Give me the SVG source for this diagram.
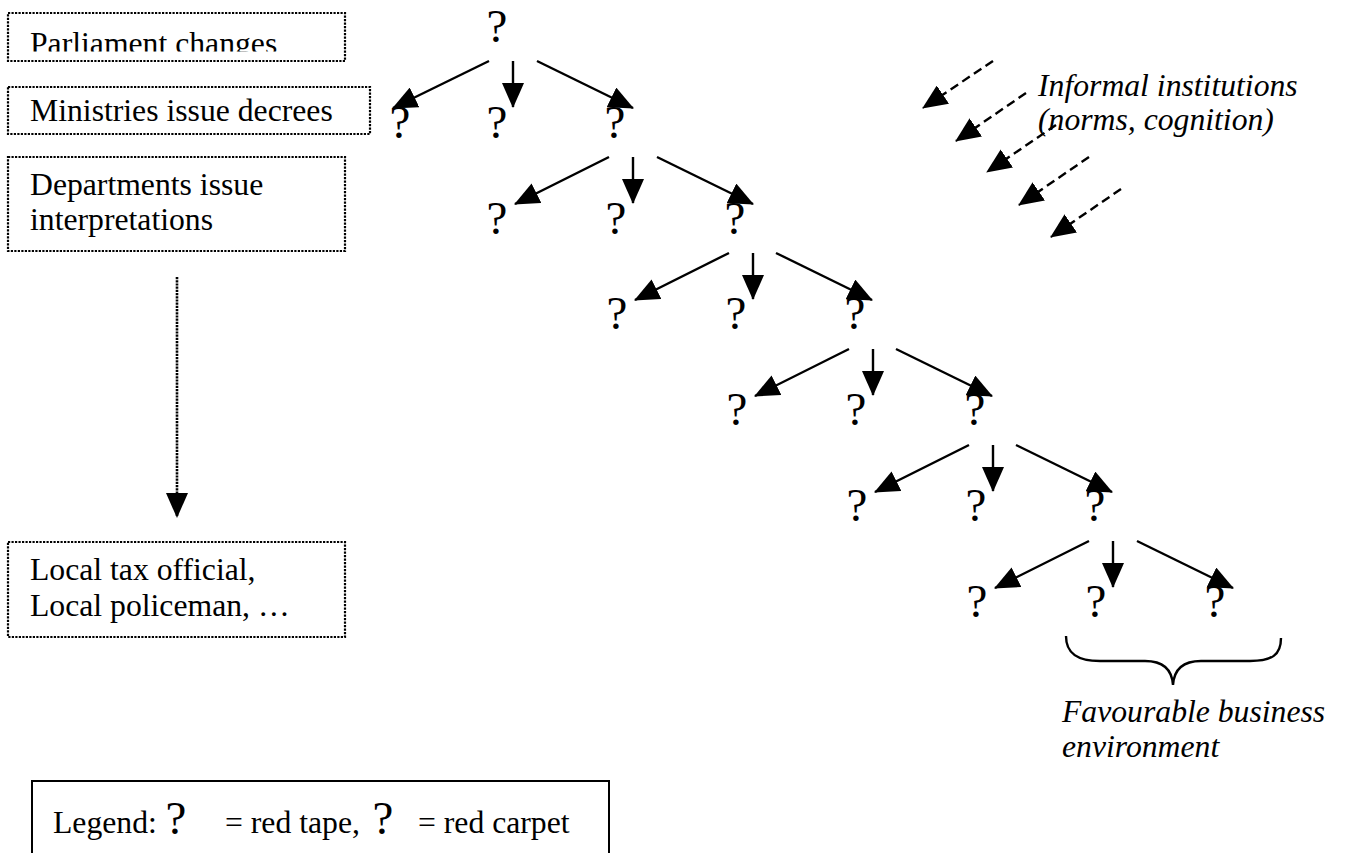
<svg xmlns="http://www.w3.org/2000/svg" width="1347" height="853" viewBox="0 0 1347 853">
<style>
text{font-family:"Liberation Serif","Times New Roman",serif;fill:#000}
.t{font-size:31.7px}
.it{font-size:31.7px;font-style:italic}
.q{font-size:47px;text-anchor:middle}
.box{fill:none;stroke:#000;stroke-width:2.2;stroke-dasharray:2.2 1.3}
.arr{stroke:#000;stroke-width:2.4;fill:none;marker-end:url(#ah)}
.dash{stroke:#000;stroke-width:2.4;fill:none;stroke-dasharray:9 5;marker-end:url(#ah)}
.dot{stroke:#000;stroke-width:2.6;fill:none;stroke-dasharray:2.2 1;marker-end:url(#ah)}
</style>
<defs>
<marker id="ah" markerUnits="userSpaceOnUse" markerWidth="25" markerHeight="22" refX="24" refY="11" orient="auto" viewBox="0 0 25 22">
<path d="M0,0 L25,11 L0,22 Z" fill="#000" stroke="none"/>
</marker>
<clipPath id="c1"><rect x="0" y="0" width="360" height="51.5"/></clipPath>
</defs>
<rect width="1347" height="853" fill="#fff"/>

<g id="box-parliament">
<rect class="box" x="8" y="13" width="337" height="48"/>
<text class="t" x="30" y="54" clip-path="url(#c1)">Parliament changes</text>
</g>
<g id="box-ministries">
<rect class="box" x="8" y="87" width="362" height="47"/>
<text class="t" x="30" y="121">Ministries issue decrees</text>
</g>
<g id="box-departments">
<rect class="box" x="8" y="157" width="337" height="94"/>
<text class="t" x="30" y="195">Departments issue</text>
<text class="t" x="30" y="230">interpretations</text>
</g>
<g id="box-local">
<rect class="box" x="8" y="542" width="337" height="95"/>
<text class="t" x="30" y="580">Local tax official,</text>
<text class="t" x="30" y="616">Local policeman, …</text>
</g>

<g id="tree-nodes">
<text class="q" x="497" y="42">?</text>
<text class="q" x="400" y="137.8">?</text><text class="q" x="497" y="137.8">?</text><text class="q" x="615" y="137.8">?</text>
<text class="q" x="497" y="233.6">?</text><text class="q" x="616" y="233.6">?</text><text class="q" x="735" y="233.6">?</text>
<text class="q" x="617" y="329.4">?</text><text class="q" x="736" y="329.4">?</text><text class="q" x="855" y="329.4">?</text>
<text class="q" x="737" y="425.2">?</text><text class="q" x="856" y="425.2">?</text><text class="q" x="975" y="425.2">?</text>
<text class="q" x="857" y="521">?</text><text class="q" x="976" y="521">?</text><text class="q" x="1095" y="521">?</text>
<text class="q" x="977" y="616.8">?</text><text class="q" x="1096" y="616.8">?</text><text class="q" x="1215" y="616.8">?</text>
</g>

<g id="connectors">
<line class="dot" x1="177" y1="277" x2="177" y2="517"/>
<line class="arr" x1="489" y1="61" x2="393" y2="108"/>
<line class="arr" x1="513" y1="61" x2="513" y2="107"/>
<line class="arr" x1="537" y1="61" x2="633" y2="108"/>
<line class="arr" x1="609" y1="157" x2="515" y2="204"/>
<line class="arr" x1="633" y1="157" x2="633" y2="203"/>
<line class="arr" x1="657" y1="157" x2="753" y2="204"/>
<line class="arr" x1="729" y1="253" x2="635" y2="300"/>
<line class="arr" x1="753" y1="253" x2="753" y2="299"/>
<line class="arr" x1="776" y1="253" x2="872" y2="300"/>
<line class="arr" x1="849" y1="349" x2="755" y2="396"/>
<line class="arr" x1="873" y1="349" x2="873" y2="395"/>
<line class="arr" x1="896" y1="349" x2="992" y2="396"/>
<line class="arr" x1="969" y1="445" x2="875" y2="492"/>
<line class="arr" x1="993" y1="445" x2="993" y2="491"/>
<line class="arr" x1="1016" y1="445" x2="1112" y2="492"/>
<line class="arr" x1="1089" y1="541" x2="995" y2="588"/>
<line class="arr" x1="1113" y1="541" x2="1113" y2="587"/>
<line class="arr" x1="1137" y1="541" x2="1233" y2="588"/>
<line class="dash" x1="993" y1="61" x2="923" y2="108"/>
<line class="dash" x1="1026" y1="93" x2="956" y2="141"/>
<line class="dash" x1="1056" y1="125" x2="987" y2="172"/>
<line class="dash" x1="1089" y1="157" x2="1019" y2="205"/>
<line class="dash" x1="1121" y1="189" x2="1051" y2="237"/>
</g>

<g id="informal-label">
<text class="it" x="1038" y="96">Informal institutions</text>
<text class="it" x="1038" y="130">(norms, cognition)</text>
</g>

<g id="brace">
<path d="M1066,636 C1066,654 1078,661 1100,661 L1145,661 C1163,661 1172,670 1173,685 C1174,670 1183,661 1201,661 L1250,661 C1272,661 1281,655 1281,638" fill="none" stroke="#000" stroke-width="2.4"/>
<text class="it" x="1062" y="722">Favourable business</text>
<text class="it" x="1062" y="757">environment</text>
</g>

<g id="legend">
<rect x="32" y="781" width="577" height="90" fill="none" stroke="#000" stroke-width="2"/>
<text class="t" x="53" y="833">Legend:</text>
<text class="q" x="176" y="834">?</text>
<text class="t" x="225" y="833">= red tape,</text>
<text class="q" x="383" y="834">?</text>
<text class="t" x="418" y="833">= red carpet</text>
</g>
</svg>
